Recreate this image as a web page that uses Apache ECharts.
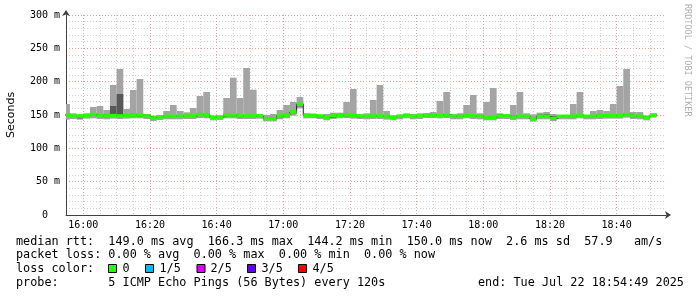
<!DOCTYPE html>
<html><head><meta charset="utf-8">
<script src="https://cdn.jsdelivr.net/npm/echarts@6/dist/echarts.min.js"></script>
<style>html,body{margin:0;padding:0;background:#fff}#c{width:697px;height:297px}</style>
</head><body><div id="c"></div>
<script>
// ---- data (ms), one value per 120 s bin, bins starting 15:54 ----
const rttMin = [143,144,143,144.5,145,144,143.5,144.5,144,144.5, 145,145,144,141,142.5,143.5,143.5,143.5,144,144,
  145.5,145,142,142.5,145,145,144,144,144,144.5, 140.5,140.5,143.5,145,149,160,145,145,144,142,
  144,145,145.5,144.5,144,143.5,144,144,143,142, 143.5,145,143.5,144,145.5,145.5,145,145.5,143.5,143.5,
  145,144,143.5,142,142,144,144,142.5,143.5,143.5, 140,143.5,143.5,141,143.5,143.5,143.5,145,143.5,143.5,
  144,144.5,144.5,144.5,146,144,143.5,142,146];
const rttLow = [148,147.5,145,147.5,148.5,147,146.5,147.5,148,147, 148,147,147.5,144.5,145.5,146,146.5,146.5,147,147,
  148.5,148,145,145.5,148,147.5,146,147,147.5,147.5, 143.5,143.5,146,148,152,163,148,147.5,146,145,
  146,147,148,147,146,146.5,147,147,146,145, 146.5,148,146.5,147,148,148,147.5,148,146,146.5,
  147.5,147,146.5,144.5,144.5,147,147,146,146.5,147, 143,146.5,146.5,144,146,146,146.5,148,146,146.5,
  147,147.5,147.5,148,149,146,146,144.5,149];
const rttMedian = [150.0,148.5,148.5,149,150.7,148.5,148.5,149,148.5,149, 150,150,148.5,145.5,147,148,148,148,148.5,148.5,
  150.7,150,146.5,147,150,150,148.5,148.5,148.5,148.5, 144.5,144.5,148.5,150,154.5,166.3,149.5,149.5,148.5,146.5,
  149,149.5,150.5,149,148.5,148,148.5,148.5,147.7,146.5, 148,149.5,148,148.5,150,150,149.5,150,148,148,
  149.5,148.5,148,146.5,146.5,148.5,148.5,147,148,148, 144.2,148,148,145,148,148,148,149.5,148,148,
  148.5,149,149,149,150.5,148.5,148,146.5,150.0];
const rttHigh = [152,150,149.5,150.5,152,150,151,163.5,181.5,150.5, 152,151.5,150,147,148.5,149.5,149.5,149.5,150,150,
  152.5,151.5,148,148,151.5,151,150,150,150,150, 146,146.5,150,152,156.5,167.5,151,150.5,149.5,148.5,
  151,151.5,152,150.5,150,149.5,150,150,149.5,148, 149.5,151,149.5,150,151.5,151.5,151,151.5,150,150,
  151,150,150,148.5,148.5,151.5,150,149.5,150,150, 146,150.5,151,148.5,149.5,149.5,150,151,149.5,150,
  150.5,150.5,150.5,151,152.5,150,150,148,151.5];
const rttMax = [166.5,152.5,151,152.5,162,163.5,157.5,195,219,159, 187.5,204,151.5,149,150,156,165,156,154,160.5,
  178.5,184.5,149,149,175.5,206,175.5,220.5,188,151.5, 150,151.5,157.5,165,169.5,177,152.5,151,150,151.5,
  153.5,153.5,169.5,189,151.5,152.5,172.5,195,156,149.5, 150.5,152,151.5,152.5,152.5,154.5,171,184.5,151.5,152.5,
  165,180,152.5,169.5,190.5,152.5,151,165,184.5,152.5, 151,153.5,154.5,151.5,150,150,166.5,184.5,150,156,
  157.5,156,166.5,193.5,219,154.5,154.5,149,152];

const yTicks = [0, 50, 100, 150, 200, 250, 300];
const lossLabels = ['0', '1/5', '2/5', '3/5', '4/5'];
const lossColors = ['#26ff00', '#00b8ff', '#dd00ff', '#5e00ff', '#ff0000'];
const statLines = [
  'median rtt:  149.0 ms avg  166.3 ms max  144.2 ms min  150.0 ms now  2.6 ms sd  57.9   am/s',
  'packet loss: 0.00 % avg  0.00 % max  0.00 % min  0.00 % now',
  'loss color:',
  'probe:       5 ICMP Echo Pings (56 Bytes) every 120s'
];
const endText = 'end: Tue Jul 22 18:54:49 2025';
const sideText = 'RRDTOOL / TOBI OETIKER';

const axisStart = new Date(2025, 6, 22, 15, 54, 49).getTime();
const axisEnd = new Date(2025, 6, 22, 18, 54, 49).getTime();
const firstBin = new Date(2025, 6, 22, 15, 54, 0).getTime();
const STEP = 120000;

const smokeData = rttMedian.map((m, i) => [firstBin + i * STEP, firstBin + (i + 1) * STEP, rttMin[i], rttLow[i], rttHigh[i], rttMax[i]]);
const medData = rttMedian.map((m, i) => [firstBin + i * STEP, firstBin + (i + 1) * STEP, m]);
const medLine = rttMedian.map((m, i) => [firstBin + i * STEP, m]);
medLine.push([firstBin + rttMedian.length * STEP, rttMedian[rttMedian.length - 1]]);

const MONO = 'DejaVu Sans Mono';
const pad = n => (n < 10 ? '0' : '') + n;

function clipRect(params, r) {
  const cs = params.coordSys;
  return echarts.graphic.clipRectByRect(r, { x: cs.x, y: cs.y, width: cs.width, height: cs.height });
}

const chart = echarts.init(document.getElementById('c'), null, { renderer: 'canvas' });
const graphics = [];
statLines.forEach((t, i) => {
  graphics.push({ type: 'text', x: 16, y: [241.5, 255, 269, 283][i],
    style: { text: t, fontFamily: MONO, fontSize: 11.8, fill: '#000', verticalAlign: 'middle', align: 'left' } });
});
graphics.push({ type: 'text', x: 478, y: 283,
  style: { text: endText, fontFamily: MONO, fontSize: 11.8, fill: '#000', verticalAlign: 'middle', align: 'left' } });
const sqX = [108.5, 145.5, 197, 247.5, 298.5];
const lbX = [122.5, 159.5, 210.5, 261.5, 312.5];
lossLabels.forEach((l, i) => {
  graphics.push({ type: 'rect', shape: { x: sqX[i], y: 264.5, width: 8, height: 8 },
    style: { fill: lossColors[i], stroke: '#000', lineWidth: 1 } });
  graphics.push({ type: 'text', x: lbX[i], y: 269,
    style: { text: l, fontFamily: MONO, fontSize: 11.8, fill: '#000', verticalAlign: 'middle', align: 'left' } });
});
graphics.push({ type: 'text', x: 687.5, y: 4, rotation: -Math.PI / 2,
  style: { text: sideText, fontFamily: MONO, fontSize: 8.5, fill: '#b0b0b0', verticalAlign: 'middle', align: 'left' } });

chart.setOption({
  animation: false,
  backgroundColor: '#fff',
  grid: { left: 66, top: 15, width: 600, height: 200, containLabel: false, outerBoundsMode: 'none' },
  xAxis: [
    {
      type: 'time', min: axisStart, max: axisEnd, position: 'bottom', z: 1,
      minInterval: 20.5 * 60000, maxInterval: 20.5 * 60000,
      axisLine: { show: true, symbol: ['none', 'arrow'], symbolSize: [6, 6], symbolOffset: [0, 5],
        lineStyle: { color: '#404040', width: 1 } },
      axisTick: { show: false },
      axisLabel: { show: true, showMinLabel: false, showMaxLabel: false, margin: 5, color: '#000',
        fontFamily: MONO, fontSize: 10,
        formatter: v => { const d = new Date(v); return pad(d.getHours()) + ':' + pad(d.getMinutes()); } },
      splitLine: { show: true, showMinLine: false, showMaxLine: false,
        lineStyle: { color: '#e79a9a', width: 1, type: [1, 2] } }
    },
    {
      type: 'time', min: axisStart, max: axisEnd, z: 0,
      minInterval: 5.5 * 60000, maxInterval: 5.5 * 60000,
      axisLine: { show: false }, axisTick: { show: false }, axisLabel: { show: false },
      splitLine: { show: true, showMinLine: false, showMaxLine: false,
        lineStyle: { color: '#cfcfcf', width: 1, type: [1, 2] } }
    }
  ],
  yAxis: {
    type: 'value', min: yTicks[0], max: yTicks[yTicks.length - 1], interval: yTicks[1] - yTicks[0],
    name: 'Seconds', nameLocation: 'middle', nameGap: 49, nameRotate: 90,
    nameTextStyle: { fontFamily: 'DejaVu Sans', fontSize: 11, color: '#000' },
    axisLine: { show: true, symbol: ['none', 'arrow'], symbolSize: [6, 6], symbolOffset: [0, 5],
      lineStyle: { color: '#404040', width: 1 } },
    axisTick: { show: false },
    axisLabel: { margin: 6, color: '#000', fontFamily: MONO, fontSize: 10,
      formatter: v => (v === 0 ? '0  ' : v + ' m') },
    splitLine: { show: true, lineStyle: { color: '#e79a9a', width: 1, type: [1, 2] } },
    minorTick: { show: false, splitNumber: 5 },
    minorSplitLine: { show: true, lineStyle: { color: '#cfcfcf', width: 1, type: [1, 2] } }
  },
  series: [
    {
      type: 'custom', name: 'smoke', xAxisIndex: 0, yAxisIndex: 0, z: 2,
      data: smokeData, encode: { x: [0, 1], y: [2, 3, 4, 5] },
      renderItem: (params, api) => {
        const x0 = api.value(0), x1 = api.value(1);
        const a = api.coord([x0, api.value(5)]), b = api.coord([x1, api.value(2)]);
        const c = api.coord([x0, api.value(4)]), d = api.coord([x1, api.value(3)]);
        const outer = clipRect(params, { x: a[0], y: a[1], width: b[0] - a[0], height: b[1] - a[1] });
        const inner = clipRect(params, { x: c[0], y: c[1], width: d[0] - c[0], height: d[1] - c[1] });
        const children = [];
        if (outer) children.push({ type: 'rect', shape: outer, style: { fill: '#a4a4a4' } });
        if (inner) children.push({ type: 'rect', shape: inner, style: { fill: '#585858' } });
        return { type: 'group', children };
      }
    },
    {
      type: 'line', name: 'median', xAxisIndex: 0, yAxisIndex: 0, z: 3,
      data: medLine, step: 'end', symbol: 'none', showSymbol: false, clip: true,
      lineStyle: { color: '#202020', width: 1 }
    },
    {
      type: 'custom', name: 'loss', xAxisIndex: 0, yAxisIndex: 0, z: 4,
      data: medData, encode: { x: [0, 1], y: 2 },
      renderItem: (params, api) => {
        const a = api.coord([api.value(0), api.value(2)]), b = api.coord([api.value(1), api.value(2)]);
        const r = clipRect(params, { x: a[0], y: a[1] - 1.8, width: b[0] - a[0], height: 3.6 });
        if (!r) return null;
        return { type: 'rect', shape: r, style: { fill: lossColors[0] } };
      }
    }
  ],
  graphic: { elements: graphics }
});
</script>
</body></html>
